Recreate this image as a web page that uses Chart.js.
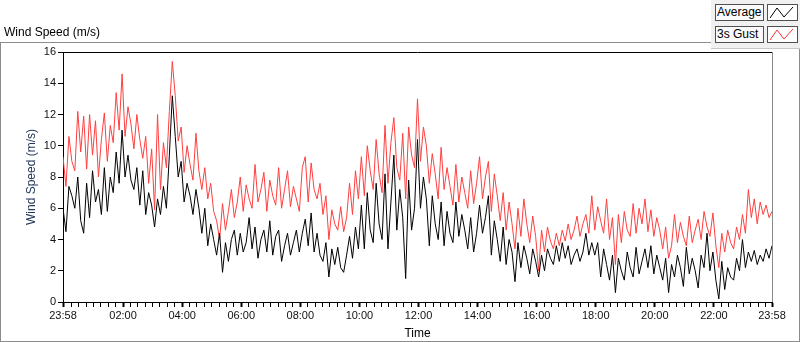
<!DOCTYPE html>
<html>
<head>
<meta charset="utf-8">
<script src="https://cdn.jsdelivr.net/npm/chart.js@4.4.0/dist/chart.umd.min.js"></script>
<style>
    html, body { margin: 0; padding: 0; background: #fff; }
    #wrap { position: relative; width: 800px; height: 342px; overflow: hidden; font-family: "Liberation Sans", Arial, sans-serif; }
    #chart { position: absolute; left: 0; top: 0; }
    #frame { position: absolute; left: 0; top: 42px; width: 798px; height: 298px; border: 1px solid #8c8c8c; pointer-events: none; }
    #title { position: absolute; left: 4px; top: 25px; font-size: 12px; color: #000; }
    #legendPanel { position: absolute; left: 711px; top: 0; width: 89px; height: 48px; background: #f0f0f0; border-bottom: 1px solid #c8c8c8; }
    .lgText { position: absolute; left: 4px; width: 46px; height: 15px; border: 1px solid #505050; background: #fafafa; font-size: 12px; line-height: 15px; padding-left: 1px; color: #000; }
    .lgIcon { position: absolute; left: 56px; width: 29px; height: 15px; border: 1px solid #505050; background: #fff; }
</style>
</head>
<body>
<div id="wrap">
    <canvas id="chart" width="800" height="342"></canvas>
    <div id="frame"></div>
    <div id="title">Wind Speed (m/s)</div>
    <div id="legendPanel">
        <div class="lgText" style="top:4px">Average</div>
        <div class="lgIcon" style="top:4px"><svg width="29" height="15"><polyline points="2,13 9,3 16,12 25,2" fill="none" stroke="#000" stroke-width="1"/></svg></div>
        <div class="lgText" style="top:26px">3s Gust</div>
        <div class="lgIcon" style="top:26px"><svg width="29" height="15"><polyline points="2,13 9,3 16,12 25,2" fill="none" stroke="#ff3030" stroke-width="1"/></svg></div>
    </div>
</div>
<script>
// one sample every 6 minutes, starting 23:58
const sampleStepMin = 6;

const gust3s = [
    9.3, 7.4, 10.6, 9.0, 8.4, 12.2, 9.6, 11.9, 8.5, 12.0,
    9.4, 11.6, 8.0, 10.4, 12.1, 9.0, 11.3, 10.2, 13.4, 11.0,
    14.6, 10.6, 12.5, 11.4, 9.8, 12.0, 10.4, 9.2, 10.6, 7.6,
    9.8, 5.9, 12.0, 7.2, 10.2, 8.6, 12.2, 15.4, 13.2, 10.3,
    11.2, 8.3, 10.0, 8.8, 7.8, 10.8, 8.4, 7.2, 8.6, 6.6,
    7.6, 5.8, 5.2, 4.0, 6.3, 4.6, 5.8, 7.2, 5.4, 6.4,
    8.0, 5.8, 7.5, 6.6, 6.0, 8.8, 6.4, 7.2, 8.3, 5.8,
    7.8, 6.8, 6.2, 8.6, 6.0, 7.2, 8.4, 6.1, 7.4, 6.6,
    5.8, 8.6, 9.3, 6.4, 8.9, 7.2, 6.6, 7.6, 5.6, 6.8,
    4.0, 5.9, 5.0, 4.6, 6.1, 4.5, 5.4, 7.6, 5.6, 8.4,
    6.6, 9.3, 6.8, 10.0, 8.4, 7.2, 10.4, 8.2, 7.0, 11.3,
    7.6, 10.2, 11.8, 8.6, 7.8, 10.8, 6.6, 11.2, 9.4, 8.6,
    13.0, 9.0, 11.2, 10.0, 7.6, 9.5, 8.2, 6.6, 9.9, 7.2,
    8.6, 7.4, 6.2, 8.8, 6.4, 8.0, 7.0, 6.0, 8.4, 6.3,
    7.6, 9.3, 6.6, 8.0, 9.0, 5.8, 8.2, 6.8, 5.2, 7.0,
    4.6, 6.4, 5.0, 3.4, 6.0, 4.2, 6.6, 5.0, 3.8, 5.5,
    4.2, 2.0, 4.6, 3.2, 4.8, 3.9, 3.4, 4.4, 3.6, 4.6,
    3.9, 5.0, 4.0, 4.6, 5.5, 4.2, 5.0, 5.6, 4.4, 6.8,
    4.6, 6.1, 5.2, 4.4, 6.6, 4.0, 5.4, 2.4, 5.6, 3.8,
    5.8, 4.6, 4.2, 6.3, 4.4, 6.0, 5.0, 6.6, 4.5, 5.9,
    4.2, 5.4, 4.6, 3.4, 4.8, 2.8, 3.6, 5.6, 3.8, 5.1,
    4.2, 3.6, 5.5, 3.8, 4.6, 5.3, 4.0, 5.8, 4.8, 4.2,
    5.7, 3.6, 2.2, 4.4, 3.2, 4.6, 3.8, 3.4, 4.8, 4.0,
    5.6, 4.4, 7.2, 5.4, 6.6, 5.0, 6.4, 5.6, 6.2, 5.4,
    5.8
];

const average = [
    6.0, 4.5, 7.4, 6.8, 6.0, 8.0, 5.2, 4.4, 7.6, 5.4,
    8.4, 6.4, 7.2, 5.6, 8.6, 5.8, 8.0, 7.0, 9.6, 7.6,
    11.0, 8.0, 9.4, 7.8, 7.2, 8.6, 6.2, 8.4, 5.6, 7.0,
    6.2, 4.8, 6.6, 5.6, 7.4, 6.0, 9.4, 13.2, 10.6, 8.0,
    9.0, 6.4, 7.6, 6.8, 5.6, 7.2, 6.0, 4.4, 6.0, 3.6,
    5.0, 4.0, 3.0, 4.4, 1.9, 3.8, 2.6, 4.0, 4.6, 3.0,
    4.4, 3.2, 3.8, 5.4, 3.4, 4.8, 2.8, 4.0, 4.6, 3.2,
    5.2, 3.0, 4.2, 4.6, 2.6, 3.6, 4.4, 3.0, 3.8, 4.6,
    3.2, 4.4, 5.3, 3.6, 5.7, 3.2, 4.4, 3.0, 2.6, 3.8,
    1.6, 3.4, 2.4, 3.5, 2.2, 1.9, 3.0, 4.2, 2.8, 4.8,
    3.4, 6.2, 3.4, 7.0, 4.6, 3.8, 7.6, 5.0, 4.0, 8.2,
    3.4, 6.4, 9.4, 4.6, 7.2, 5.4, 1.5, 7.8, 4.6, 6.0,
    10.4, 6.0, 8.0, 6.6, 3.6, 6.8, 5.0, 4.0, 6.4, 3.6,
    5.8, 4.4, 3.8, 6.4, 4.2, 5.6, 4.6, 3.4, 5.4, 3.2,
    4.4, 6.2, 4.4, 5.4, 6.8, 3.0, 5.2, 4.0, 2.6, 4.8,
    2.4, 4.0, 3.2, 1.3, 3.8, 2.2, 3.6, 2.8, 1.8, 3.4,
    2.6, 1.6, 3.0, 2.0, 3.4, 2.8, 2.4, 3.6, 2.6, 3.8,
    2.8, 3.6, 2.4, 3.0, 3.4, 2.6, 3.2, 4.4, 3.0, 3.8,
    3.0, 3.8, 1.6, 3.4, 2.4, 1.4, 3.0, 0.6, 2.8, 2.0,
    1.4, 3.2, 2.2, 1.6, 3.5, 1.8, 2.6, 3.4, 2.2, 3.6,
    1.8, 3.0, 2.2, 1.4, 2.8, 0.6, 2.4, 1.6, 3.0, 2.2,
    1.0, 3.5, 1.8, 2.8, 2.0, 0.9, 3.0, 2.2, 4.4, 2.0,
    3.2, 1.4, 0.2, 2.6, 0.8, 2.2, 1.6, 1.4, 2.8, 2.0,
    4.0, 2.2, 3.2, 2.6, 3.3, 2.4, 3.0, 2.6, 3.4, 2.8,
    3.6
];

// minutes after 23:58 for the labelled ticks
const majorMinutes = [0, 122, 242, 362, 482, 602, 722, 842, 962, 1082, 1202, 1322, 1440];
const majorLabels = ["23:58", "02:00", "04:00", "06:00", "08:00", "10:00", "12:00", "14:00", "16:00", "18:00", "20:00", "22:00", "23:58"];
const yTicks = [0, 2, 4, 6, 8, 10, 12, 14, 16];

const toPoints = arr => arr.map((v, i) => ({ x: i * sampleStepMin, y: v }));

const frameLines = {
    id: "frameLines",
    afterDraw(chart) {
        const { ctx, chartArea: a } = chart;
        ctx.save();
        ctx.lineWidth = 1;
        ctx.strokeStyle = "#000";
        ctx.beginPath();
        ctx.moveTo(a.left, a.top + 0.5);
        ctx.lineTo(a.right, a.top + 0.5);
        ctx.stroke();
        ctx.strokeStyle = "#8a8a8a";
        ctx.beginPath();
        ctx.moveTo(a.right + 0.5, a.top);
        ctx.lineTo(a.right + 0.5, a.bottom);
        ctx.stroke();
        ctx.restore();
    }
};

const tickFont = { family: "'Liberation Sans', Arial, sans-serif", size: 11 };
const titleFont = { family: "'Liberation Sans', Arial, sans-serif", size: 12 };

new Chart(document.getElementById("chart"), {
    type: "line",
    data: {
        datasets: [
            {
                label: "Average",
                data: toPoints(average),
                borderColor: "#000000",
                borderWidth: 1,
                pointRadius: 0,
                tension: 0,
                order: 0
            },
            {
                label: "3s Gust",
                data: toPoints(gust3s),
                borderColor: "#ff3f3f",
                borderWidth: 1,
                pointRadius: 0,
                tension: 0,
                order: 1
            }
        ]
    },
    options: {
        responsive: false,
        animation: false,
        events: [],
        layout: { padding: { top: 52, right: 28, left: 0, bottom: 0 } },
        plugins: { legend: { display: false }, tooltip: { enabled: false } },
        scales: {
            x: {
                type: "linear",
                min: 0,
                max: 1440,
                afterFit(scale) { scale.height = 40; },
                afterBuildTicks(scale) {
                    const ticks = majorMinutes.map(v => ({ value: v, major: true }));
                    for (let m = 17; m < 1440; m += 15) {
                        if (!majorMinutes.includes(m)) ticks.push({ value: m, major: false });
                    }
                    ticks.sort((a, b) => a.value - b.value);
                    scale.ticks = ticks;
                },
                ticks: {
                    autoSkip: false,
                    maxRotation: 0,
                    padding: 2,
                    color: "#111",
                    font: tickFont,
                    callback(value) {
                        const idx = majorMinutes.indexOf(value);
                        return idx >= 0 ? majorLabels[idx] : "";
                    }
                },
                grid: {
                    drawOnChartArea: false,
                    drawTicks: true,
                    tickLength: 5,
                    tickColor: "#000",
                    tickWidth: ctx => (ctx.tick && ctx.tick.major ? 2 : 1)
                },
                border: { display: true, color: "#000", width: 1 },
                title: { display: true, text: "Time", color: "#000", font: titleFont, padding: { top: 0, bottom: 1 } }
            },
            y: {
                min: 0,
                max: 16,
                afterFit(scale) { scale.width = 63; },
                afterBuildTicks(scale) {
                    scale.ticks = yTicks.map(v => ({ value: v }));
                },
                ticks: { padding: 2, color: "#111", font: tickFont },
                grid: {
                    drawOnChartArea: false,
                    drawTicks: true,
                    tickLength: 5,
                    tickColor: "#000"
                },
                border: { display: true, color: "#000", width: 1 },
                title: { display: true, text: "Wind Speed (m/s)", color: "#24375a", font: titleFont, padding: { top: 24, bottom: 0 } }
            }
        }
    },
    plugins: [frameLines]
});
</script>
</body>
</html>
